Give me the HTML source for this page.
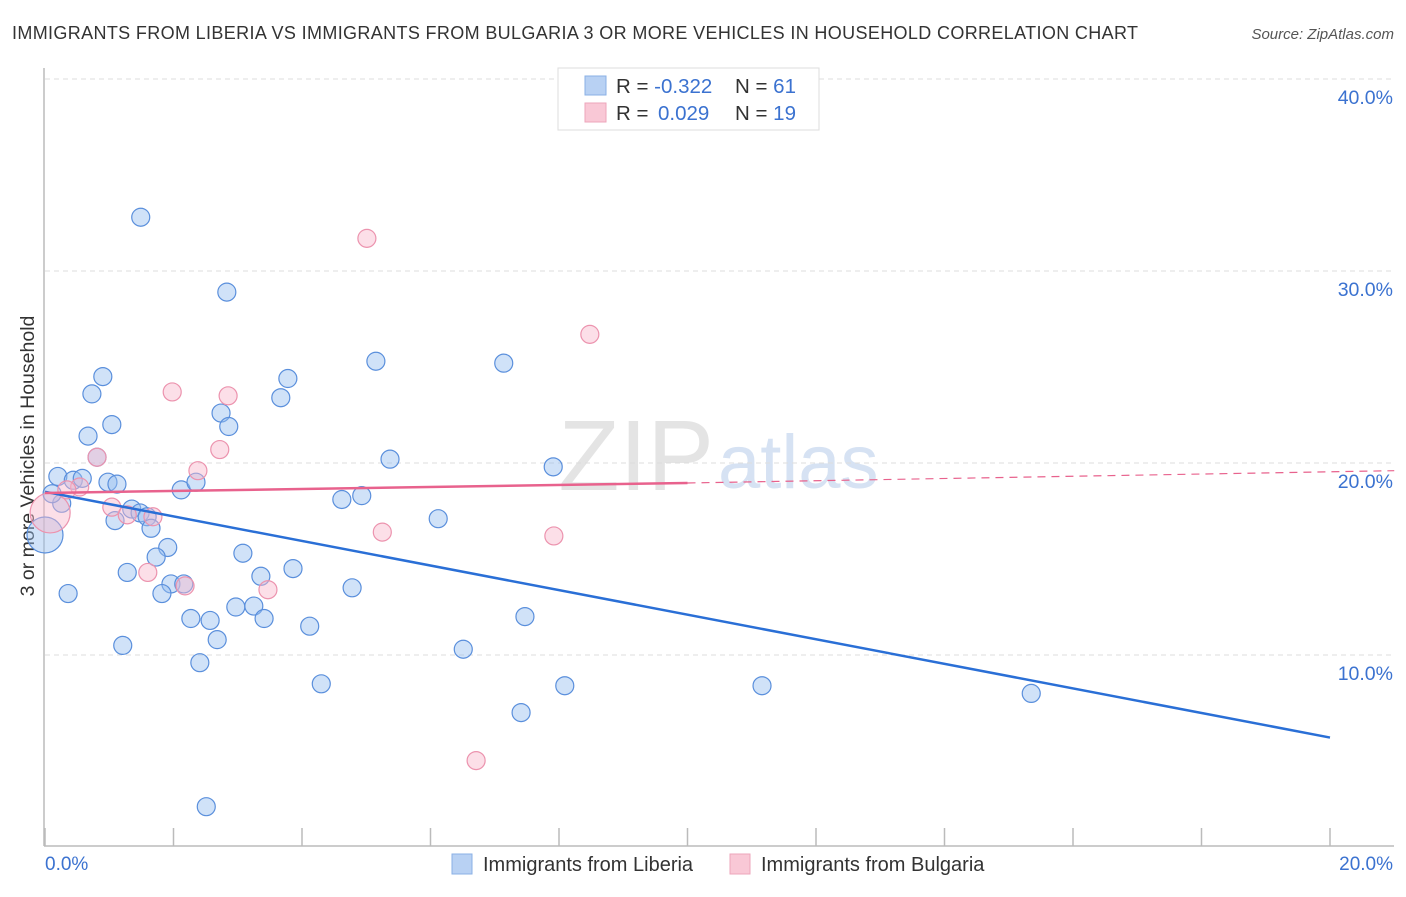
<!DOCTYPE html>
<html><head><meta charset="utf-8"><style>
body{margin:0;background:#fff;font-family:"Liberation Sans",sans-serif;}
svg text{font-family:"Liberation Sans",sans-serif;}
</style></head><body>
<svg id="chart" width="1406" height="892">
<text x="12" y="39" font-size="18" fill="#333" textLength="1126">IMMIGRANTS FROM LIBERIA VS IMMIGRANTS FROM BULGARIA 3 OR MORE VEHICLES IN HOUSEHOLD CORRELATION CHART</text>
<text x="1394" y="39" font-size="15" fill="#555" font-style="italic" text-anchor="end">Source: ZipAtlas.com</text>
<text x="714" y="490" font-size="100" fill="#e4e4e4" text-anchor="end" font-family="Liberation Serif">ZIP</text>
<text x="718" y="488" font-size="76" fill="#d6e2f3">atlas</text>
<g id="grid"></g>
<line x1="44" y1="68" x2="44" y2="846" stroke="#bbb" stroke-width="1.5"/>
<line x1="44" y1="846" x2="1394" y2="846" stroke="#bbb" stroke-width="1.5"/>
<g id="xticks"></g>
<text transform="translate(34,456) rotate(-90)" font-size="19.5" fill="#333" text-anchor="middle">3 or more Vehicles in Household</text>
<text x="45" y="870" font-size="19" fill="#3b72d0">0.0%</text>
<text x="1393" y="870" font-size="19" fill="#3b72d0" text-anchor="end">20.0%</text>
<g id="points"></g>
<g id="lines"></g>
<g>
<rect x="558" y="68" width="261" height="62" fill="#fff" stroke="#ddd"/>
<rect x="585" y="76" width="21" height="19" fill="#b8d1f3" stroke="#8ab0e6"/>
<rect x="585" y="103" width="21" height="19" fill="#f9c8d6" stroke="#eda6bb"/>
<text x="616" y="93" font-size="20.5" fill="#333">R = <tspan fill="#3b72d0">-0.322</tspan><tspan x="735">N = </tspan><tspan fill="#3b72d0">61</tspan></text>
<text x="616" y="120" font-size="20.5" fill="#333">R = <tspan fill="#3b72d0" x="658">0.029</tspan><tspan x="735">N = </tspan><tspan fill="#3b72d0">19</tspan></text>
</g>
<g>
<rect x="452" y="854" width="20" height="20" fill="#b8d1f3" stroke="#8ab0e6"/>
<text x="483" y="871" font-size="20" fill="#333">Immigrants from Liberia</text>
<rect x="730" y="854" width="20" height="20" fill="#f9c8d6" stroke="#eda6bb"/>
<text x="761" y="871" font-size="20" fill="#333">Immigrants from Bulgaria</text>
</g>
</svg>
<script>
const yTicks=[10,20,30,40];
const yTickLabels=["10.0%","20.0%","30.0%","40.0%"];
const xTicks=[0,2,4,6,8,10,12,14,16,18,20];
const liberiaX=[1.49,2.83,0.90,0.73,3.78,3.67,5.15,7.14,1.04,2.74,2.86,0.67,0.81,5.37,7.91,0.20,0.44,0.58,0.98,1.12,0.26,0.11,2.12,2.35,4.62,4.93,6.12,1.35,1.48,1.59,1.65,1.91,1.73,3.08,1.28,3.86,3.36,1.96,2.16,1.82,0.36,4.78,2.97,3.25,2.27,2.57,3.41,7.47,4.12,2.68,1.21,6.51,2.41,4.30,8.09,11.16,15.35,7.41,2.51,0.0,1.09];
const liberiaY=[32.8,28.9,24.5,23.6,24.4,23.4,25.3,25.2,22.0,22.6,21.9,21.4,20.3,20.2,19.8,19.3,19.1,19.2,19.0,18.9,17.9,18.4,18.6,19.0,18.1,18.3,17.1,17.6,17.4,17.2,16.6,15.6,15.1,15.3,14.3,14.5,14.1,13.7,13.7,13.2,13.2,13.5,12.5,12.55,11.9,11.8,11.9,12.0,11.5,10.8,10.5,10.3,9.6,8.5,8.4,8.4,8.0,7.0,2.1,16.25,17.0];
const liberiaR=[9,9,9,9,9,9,9,9,9,9,9,9,9,9,9,9,9,9,9,9,9,9,9,9,9,9,9,9,9,9,9,9,9,9,9,9,9,9,9,9,9,9,9,9,9,9,9,9,9,9,9,9,9,9,9,9,9,9,9,18,9];
const bulgariaX=[5.01,8.48,1.98,2.85,2.72,2.38,0.81,0.54,1.04,1.28,1.68,5.25,7.92,1.60,2.18,3.47,6.71,0.08,0.34];
const bulgariaY=[31.7,26.7,23.7,23.5,20.7,19.6,20.3,18.75,17.7,17.3,17.2,16.4,16.2,14.3,13.6,13.4,4.5,17.4,18.6];
const bulgariaR=[9,9,9,9,9,9,9,9,9,9,9,9,9,9,9,9,9,20,9];
const liberiaTrend=[18.5,5.7];
const bulgariaTrend=[18.44,18.96,19.6];
const NS="http://www.w3.org/2000/svg";
const sx=v=>45+v/20*1285;
const sy=v=>847-v*19.2;
function mk(tag,attrs,parent){const e=document.createElementNS(NS,tag);for(const k in attrs)e.setAttribute(k,attrs[k]);document.getElementById(parent).appendChild(e);return e;}
yTicks.forEach((t,i)=>{
 const l=mk('line',{x1:45,x2:1394,y1:sy(t),y2:sy(t),stroke:'#ddd','stroke-dasharray':'5,4'},'grid');
 
 
 const tx=mk('text',{x:1393,y:sy(t)+25,'font-size':19.5,fill:'#3b72d0','text-anchor':'end'},'grid');
 tx.textContent=yTickLabels[i];
 
 
});
xTicks.forEach(t=>{
 const l=mk('line',{x1:sx(t),x2:sx(t),y1:828,y2:846,stroke:'#bbb','stroke-width':1.5},'xticks');
 
 
});
liberiaX.forEach((x,i)=>{
 const c=mk('circle',{cx:sx(x),cy:sy(liberiaY[i]),r:liberiaR[i],fill:'rgba(150,190,240,0.45)',stroke:'#5a8fdc','stroke-width':1.2},'points');
 
 
});
bulgariaX.forEach((x,i)=>{
 const c=mk('circle',{cx:sx(x),cy:sy(bulgariaY[i]),r:bulgariaR[i],fill:'rgba(248,185,205,0.45)',stroke:'#ec93ae','stroke-width':1.2},'points');
 
 
});
let l1=mk('line',{x1:sx(0),y1:sy(liberiaTrend[0]),x2:sx(20),y2:sy(liberiaTrend[1]),stroke:'#2a6fd6','stroke-width':2.5},'lines');


let l2=mk('line',{x1:sx(0),y1:sy(bulgariaTrend[0]),x2:sx(10),y2:sy(bulgariaTrend[1]),stroke:'#e8628d','stroke-width':2.5},'lines');


let l3=mk('line',{x1:sx(10),y1:sy(bulgariaTrend[1]),x2:sx(21),y2:sy(bulgariaTrend[2]),stroke:'#e8628d','stroke-width':1.2,'stroke-dasharray':'8,6'},'lines');


</script>
</body></html>
